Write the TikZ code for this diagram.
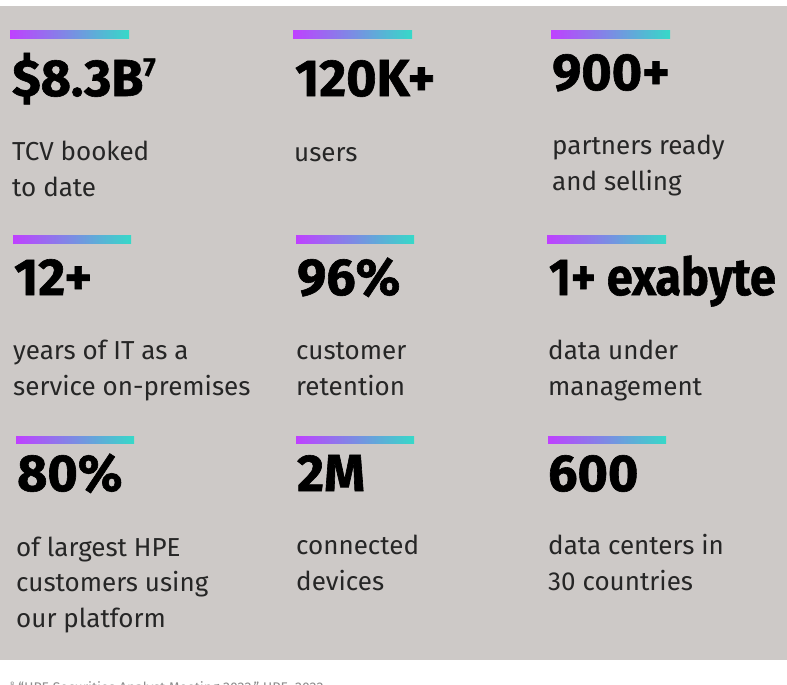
\documentclass[tikz,border=0pt]{standalone}
\usepackage{fontspec}
\usepackage{tikz}

\newfontfamily\statfont{Fira Sans}[BoldFeatures={FakeBold=1.2}]
\newfontfamily\bodyfont{Fira Sans}
\definecolor{panelgray}{HTML}{CDC9C7}
\definecolor{barpurple}{HTML}{BF40FF}
\definecolor{barteal}{HTML}{36D9C8}
\definecolor{notegray}{HTML}{8C8C8C}

\begin{document}
\begin{tikzpicture}[x=1pt,y=-1pt,
    bar/.style={left color=barpurple,right color=barteal},
    stat/.style={anchor=base west,inner sep=0pt,font=\statfont\bfseries\fontsize{52}{52}\selectfont},
    caption/.style={anchor=base west,inner sep=0pt,align=left,font=\bodyfont\fontsize{26}{35.5}\selectfont,text=black!85}]
        \useasboundingbox (0,0) rectangle (787,685);
        \clip (0,0) rectangle (787,685);
        \fill[panelgray] (0,6) rectangle (787,660);
        % gradient bars
        \shade[bar] (10,31) rectangle (129,39);
        \shade[bar] (293,31) rectangle (412,39);
        \shade[bar] (551,31) rectangle (670,39);
        \shade[bar] (13,235) rectangle (131,243);
        \shade[bar] (296,235) rectangle (414,243);
        \shade[bar] (547,235) rectangle (666,243);
        \shade[bar] (16,436) rectangle (134,443);
        \shade[bar] (296,436) rectangle (414,443);
        \shade[bar] (548,436) rectangle (666,443);
        % first row (captions placed by their last baseline)
        \node[stat] (tcv) at (12,96) {\$8.3B\raisebox{20pt}{\fontsize{26}{26}\selectfont 7}};
        \node[stat] (users) at (295,96) {120K+};
        \node[stat] (partners) at (552,90) {900+};
        \node[caption] (tcvtext) at (12,196) {TCV booked\\to date};
        \node[caption] (userstext) at (294,161) {users};
        \node[caption] (partnerstext) at (552,190) {partners ready\\and selling};
        % second row
        \node[stat] (years) at (14,295) {12+};
        \node[stat] (retention) at (297,295) {96\%};
        \node[stat] (data) at (549,295) {\scalebox{0.9}[1]{1+ exabyte}};
        \node[caption] (yearstext) at (13,395) {years of IT as a\\service on-premises};
        \node[caption] (retentiontext) at (296,395) {customer\\retention};
        \node[caption] (datatext) at (548,395) {data under\\management};
        % third row
        \node[stat] (largest) at (17,491) {80\%};
        \node[stat] (devices) at (297,491) {2M};
        \node[stat] (centers) at (548,491) {600};
        \node[caption] (largesttext) at (16,627) {of largest HPE\\customers using\\our platform};
        \node[caption] (devicestext) at (296,590) {connected\\devices};
        \node[caption] (centerstext) at (548,590) {data centers in\\30 countries};
        % footnote, cut at the page edge
        \node[anchor=base west,inner sep=0pt,text=notegray,font=\bodyfont\fontsize{14}{14}\selectfont] (source) at (10,692) {\raisebox{5pt}{\fontsize{8}{8}\selectfont 8} “HPE Securities Analyst Meeting 2022,” HPE, 2022};
    \end{tikzpicture}
\end{document}
